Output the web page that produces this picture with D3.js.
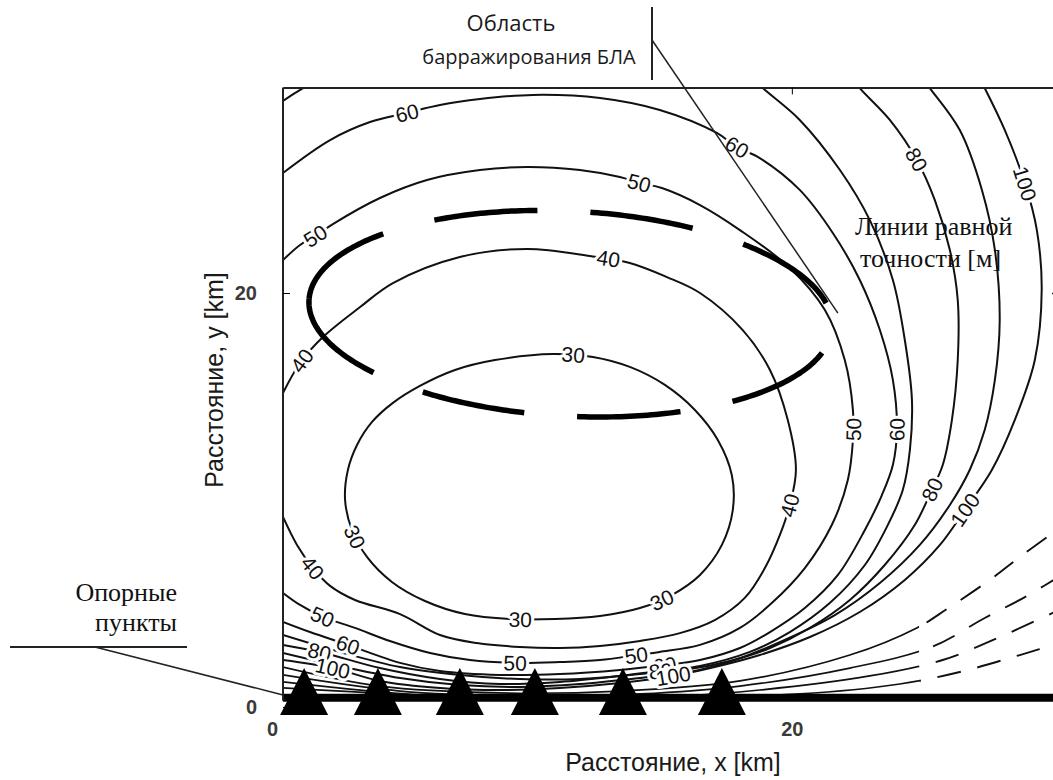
<!DOCTYPE html>
<html><head><meta charset="utf-8">
<script src="https://cdn.jsdelivr.net/npm/d3@7"></script>
<style>body{margin:0;background:#fff}</style>
</head><body><svg id="chart" width="1053" height="780"></svg>
<script>
// ---------- data (km) ----------
const xDomain = [0, 30.5];
const yDomain = [0, 30];
const xTickValues = [0, 20];
const yTickValues = [0, 20];
const stationsX = [0.83, 3.73, 6.95, 9.90, 13.36, 17.25];
const baselineBand = [[0, 0.45], [30.5, 0.45]];
const loiterArea = {cx: 11.3, cy: 19.0, rx: 10.3, ry: 4.95, tiltDeg: -4};

const contour30 = [[2.44,10.0],[2.55,11.45],[2.91,12.66],[3.50,13.77],[4.32,14.69],[5.38,15.51],[6.76,16.28],[8.33,16.76],[10.61,17.05],[12.18,16.91],[13.63,16.43],[15.01,15.56],[16.19,14.35],[17.09,12.90],[17.64,11.21],[17.68,9.52],[17.25,7.83],[16.39,6.38],[15.28,5.41],[14.03,4.78],[12.46,4.40],[10.69,4.25],[8.92,4.25],[7.15,4.49],[5.58,5.12],[4.28,6.04],[3.30,7.25],[2.71,8.55]];
const contour40 = [[0,15.17],[0.67,16.62],[1.57,17.87],[3.03,19.32],[4.32,20.48],[6.95,21.74],[9.59,22.13],[12.06,21.79],[13.63,21.45],[15.09,20.77],[16.39,20.0],[18.07,18.21],[19.14,16.28],[19.84,13.86],[20.16,11.45],[19.92,9.76],[19.53,8.31],[18.94,6.71],[18.15,5.27],[16.97,4.20],[15.60,3.57],[14.03,3.19],[12.46,2.95],[10.88,2.85],[9.31,2.90],[7.62,3.09],[6.17,3.48],[4.60,4.49],[2.83,5.17],[1.85,5.85],[1.18,6.71],[0.55,7.83],[0,9.18]];
const contour50 = [[0,21.59],[0.67,22.32],[1.26,22.75],[1.96,23.33],[3.81,24.59],[5.66,25.46],[7.74,25.94],[9.59,26.09],[11.67,25.94],[13.24,25.60],[14.03,25.31],[14.89,25.07],[16.39,24.25],[17.96,23.04],[19.92,21.21],[21.30,19.18],[22.08,16.76],[22.40,14.35],[22.40,12.90],[22.20,10.97],[21.57,8.79],[20.51,6.71],[19.21,5.02],[17.96,3.82],[16.39,3.00],[14.81,2.66],[13.91,2.51],[12.46,2.27],[10.88,2.17],[9.12,2.13],[7.35,2.27],[5.78,2.61],[4.20,3.19],[2.83,3.82],[1.57,4.35],[0.67,4.93],[0,5.51]];
const contour60 = [[0,25.80],[1.85,27.39],[3.42,28.26],[4.87,28.70],[6.17,29.08],[7.74,29.37],[9.82,29.57],[12.46,29.42],[14.81,28.84],[17.05,27.73],[17.84,27.05],[18.74,26.52],[20.31,24.98],[21.61,22.90],[22.67,20.63],[23.46,18.21],[23.97,15.80],[24.13,13.38],[23.97,11.69],[23.54,10.24],[22.87,8.55],[21.81,6.38],[20.51,4.78],[19.14,3.62],[17.96,2.85],[16.39,2.27],[15.01,2.03],[13.24,1.79],[10.88,1.59],[8.53,1.55],[6.17,1.74],[4.60,2.13],[2.55,3.00],[1.06,3.62],[0,4.11]];
const contour70a = [[-0.5,28.8],[0,29.28],[0.79,29.90],[1.4,30.3]];
const contour70 = [[18.35,30.53],[18.86,29.90],[20.31,28.36],[21.89,25.94],[23.06,23.53],[23.97,20.63],[24.44,17.73],[24.72,14.83],[24.64,12.42],[24.36,10.48],[23.77,8.79],[22.87,6.86],[21.49,5.02],[19.92,3.62],[18.35,2.66],[16.39,1.98],[14.03,1.59],[11.67,1.35],[9.31,1.35],[6.95,1.55],[4.60,1.93],[2.24,2.66],[0,3.48]];
const contour80 = [[22.28,30.53],[22.67,29.90],[23.85,28.36],[24.91,26.43],[25.62,24.49],[26.21,22.08],[26.52,19.66],[26.52,16.76],[26.29,13.86],[25.93,11.69],[25.50,10.48],[24.83,8.79],[23.65,6.86],[22.28,5.17],[20.71,3.82],[19.14,2.85],[17.56,2.22],[15.99,1.84],[14.81,1.74],[13.24,1.50],[10.88,1.21],[8.53,1.11],[6.17,1.35],[3.81,1.88],[1.45,2.66],[0,3.00]];
const contour90 = [[25.03,30.53],[25.42,29.90],[26.60,27.87],[27.47,24.98],[27.98,22.08],[28.17,18.70],[27.98,15.80],[27.58,13.38],[26.99,11.45],[26.21,9.76],[25.03,7.83],[23.46,5.99],[21.69,4.44],[19.72,3.24],[17.76,2.27],[15.99,1.69],[14.03,1.40],[11.67,1.11],[9.31,0.97],[6.95,1.06],[4.60,1.40],[1.85,2.08],[0,2.61]];
const contour100 = [[27.31,30.53],[27.58,29.90],[28.37,27.87],[29.16,25.31],[29.63,23.04],[29.82,20.14],[29.55,16.76],[28.76,13.86],[27.86,11.45],[26.80,9.52],[25.82,7.83],[24.44,6.14],[22.67,4.59],[20.71,3.38],[18.74,2.51],[16.97,1.93],[15.32,1.50],[13.24,1.16],[10.88,0.92],[8.53,0.82],[6.17,0.92],[3.81,1.26],[1.96,1.88],[0,2.27]];
const contour120 = [[0,1.93],[3.81,1.01],[8.53,0.68],[13.24,0.77],[17.96,1.26],[22.28,2.51],[24.91,3.82],[26.09,4.73],[27.78,6.14],[28.96,7.25],[30.26,8.41],[30.92,9.03]];
const contour150 = [[0,1.55],[4.60,0.77],[9.31,0.53],[14.03,0.63],[17.96,1.01],[22.28,1.88],[25.50,2.90],[27.58,4.30],[29.16,5.31],[30.92,6.62]];
const contour200 = [[0,1.21],[5.38,0.58],[10.88,0.43],[15.60,0.53],[18.74,0.82],[23.06,1.50],[25.93,2.27],[28.17,3.38],[30.92,4.93]];
const contour300 = [[0,0.92],[10.88,0.34],[20.31,0.63],[24.24,1.11],[26.60,1.69],[28.96,2.51],[30.92,3.24]];

const contourLevels = [30,40,50,60,70,70,80,90,100,120,150,200,300];
const contourLines = [contour30,contour40,contour50,contour60,contour70a,contour70,contour80,contour90,contour100,contour120,contour150,contour200,contour300];
const contourClosed = [true,false,false,false,false,false,false,false,false,false,false,false,false];

// [level, x km, y km]
const contourLabels = [
  [30,11.39,16.86],[30,2.75,8.21],[30,9.31,4.25],[30,14.81,5.41],
  [40,0.79,16.67],[40,12.77,21.59],[40,19.92,9.76],[40,1.18,6.71],
  [50,1.26,22.75],[50,14.03,25.31],[50,22.40,13.38],[50,13.91,2.51],[50,9.12,2.13],[50,1.57,4.35],
  [60,4.87,28.70],[60,17.84,27.05],[60,24.13,13.38],[60,15.01,2.03],[60,2.55,3.00],
  [80,24.91,26.43],[80,25.50,10.48],[80,14.81,1.74],[80,1.45,2.66],
  [100,29.16,25.31],[100,26.80,9.52],[100,15.32,1.50],[100,1.96,1.88]
];

// ---------- drawing ----------
const svg = d3.select('#chart');
const x = d3.scaleLinear().domain(xDomain).range([283, 1059]);
const y = d3.scaleLinear().domain(yDomain).range([707, 86]);
const SANS = 'Liberation Sans, Arial, sans-serif';

const defs = svg.append('defs');
const clipTop = y(29.93), clipBot = y(-0.3);
defs.append('clipPath').attr('id','plotclip')
  .append('rect').attr('x', x(0)).attr('y', clipTop).attr('width', x(xDomain[1]) - x(0)).attr('height', clipBot - clipTop);
defs.append('clipPath').attr('id','solidclip')
  .append('rect').attr('x', x(0)).attr('y', clipTop).attr('width', x(25) - x(0)).attr('height', clipBot - clipTop);
defs.append('clipPath').attr('id','brokenclip')
  .append('rect').attr('x', x(25)).attr('y', clipTop).attr('width', x(xDomain[1]) - x(25)).attr('height', clipBot - clipTop);

const plot = svg.append('g').attr('clip-path','url(#plotclip)');
const lineOpen = d3.line().x(d => x(d[0])).y(d => y(d[1])).curve(d3.curveCatmullRom.alpha(0.5));
const lineClosed = d3.line().x(d => x(d[0])).y(d => y(d[1])).curve(d3.curveCatmullRomClosed.alpha(0.5));

const contourPaths = [];
contourLines.forEach((pts, i) => {
  const d = (contourClosed[i] ? lineClosed : lineOpen)(pts);
  if (contourLevels[i] > 100) {
    plot.append('path').attr('d', d).attr('clip-path','url(#solidclip)')
      .attr('fill','none').attr('stroke','#111').attr('stroke-width', 1.7);
    plot.append('path').attr('d', d).attr('clip-path','url(#brokenclip)')
      .attr('fill','none').attr('stroke','#111').attr('stroke-width', 1.9)
      .attr('stroke-dasharray','24,17');
  } else {
    const p = plot.append('path').attr('d', d)
      .attr('fill','none').attr('stroke','#111').attr('stroke-width', 2);
    contourPaths.push({level: contourLevels[i], node: p.node()});
  }
});

// baseline band
plot.append('path').attr('d', d3.line().x(d => x(d[0])).y(d => y(d[1]))(baselineBand))
  .attr('stroke','#000').attr('stroke-width', 8).attr('fill','none');

// contour labels
const labelG = svg.append('g').attr('clip-path','url(#plotclip)');
contourLabels.forEach(([lev, lx, ly]) => {
  const px = x(lx), py = y(ly);
  let best = null;
  contourPaths.filter(c => c.level === lev).forEach(c => {
    const L = c.node.getTotalLength();
    for (let s = 0; s <= L; s += 1.5) {
      const q = c.node.getPointAtLength(s);
      const dd = (q.x - px) ** 2 + (q.y - py) ** 2;
      if (!best || dd < best.dd) best = {dd, s, node: c.node, L, q};
    }
  });
  const a = best.node.getPointAtLength(Math.max(0, best.s - 8));
  const b = best.node.getPointAtLength(Math.min(best.L, best.s + 8));
  let ang = Math.atan2(b.y - a.y, b.x - a.x) * 180 / Math.PI;
  if (ang > 90) ang -= 180;
  if (ang < -90) ang += 180;
  labelG.append('text')
    .attr('transform', `translate(${best.q.x},${best.q.y}) rotate(${ang})`)
    .attr('text-anchor','middle').attr('dy','0.36em')
    .attr('font-family', SANS).attr('font-size', 21)
    .attr('fill','#111').attr('stroke','#fff').attr('stroke-width', 6)
    .attr('paint-order','stroke').attr('stroke-linejoin','round')
    .text(lev);
});

// loitering area (thick dashed ellipse)
const th = loiterArea.tiltDeg * Math.PI / 180;
const ellPts = d3.range(0, 361).map(k => {
  const phi = Math.PI - k * Math.PI / 180;
  const ex = loiterArea.rx * Math.cos(phi), ey = loiterArea.ry * Math.sin(phi);
  return [loiterArea.cx + ex * Math.cos(th) - ey * Math.sin(th), loiterArea.cy + ex * Math.sin(th) + ey * Math.cos(th)];
});
const ell = svg.append('path').attr('d', d3.line().x(d => x(d[0])).y(d => y(d[1]))(ellPts))
  .attr('fill','none').attr('stroke','#000').attr('stroke-width', 5.5);
const EL = ell.node().getTotalLength();
const gap = 53, dash = (EL - 7 * gap) / 8;
ell.attr('stroke-dasharray', `${dash},${gap}`);

// frame & axes
const axisFont = g => g.selectAll('text').attr('font-family', SANS).attr('font-size', 20).attr('font-weight','bold').attr('fill','#3a3a3a');
const gl = svg.append('g').attr('transform', `translate(${x(0)},0)`)
  .call(d3.axisLeft(y).tickValues(yTickValues).tickSizeInner(-7).tickSizeOuter(0).tickPadding(26).tickFormat(d3.format('d')));
gl.select('.domain').attr('stroke','#222').attr('stroke-width', 2).attr('d', `M0,${y(29.93)}V${y(0.3)}`);
gl.call(axisFont);
const gb = svg.append('g').attr('transform', `translate(0,${y(0)})`)
  .call(d3.axisBottom(x).tickValues(xTickValues).tickSizeInner(0).tickSizeOuter(0).tickPadding(15).tickFormat(d3.format('d')));
gb.select('.domain').remove();
gb.call(axisFont);
gb.selectAll('.tick text').filter(d => d === 0).attr('dx', -11);
const gt = svg.append('g').attr('transform', `translate(0,${y(29.93)})`)
  .call(d3.axisTop(x).tickValues([20]).tickSizeInner(-7).tickSizeOuter(0).tickFormat(''));
gt.select('.domain').attr('stroke','#222').attr('stroke-width', 2);
const gr = svg.append('g').attr('transform', `translate(${x(xDomain[1])},0)`)
  .call(d3.axisRight(y).tickValues([20]).tickSizeInner(-7).tickSizeOuter(0).tickFormat(''));
gr.selectAll('line').attr('stroke','#222').attr('stroke-width', 1.5);

// stations
svg.append('g').selectAll('path').data(stationsX).join('path')
  .attr('d', d => `M${x(d) - 24},${y(0) + 8}L${x(d)},${y(0) - 39}L${x(d) + 24},${y(0) + 8}Z`)
  .attr('fill','#000');

// axis titles
svg.append('text').attr('x', 673).attr('y', 771).attr('text-anchor','middle')
  .attr('font-family', SANS).attr('font-size', 25).attr('fill','#1a1a1a')
  .text('Расстояние, x [km]');
svg.append('text').attr('transform', 'translate(223,380) rotate(-90)').attr('text-anchor','middle')
  .attr('font-family', SANS).attr('font-size', 25).attr('fill','#1a1a1a')
  .text('Расстояние, y [km]');

// annotations
const ann = svg.append('g').attr('font-family','Open Sans, sans-serif').attr('fill','#1a1a1a');
ann.append('text').attr('x', 511).attr('y', 31).attr('text-anchor','middle').attr('font-size', 22).text('Область');
ann.append('text').attr('x', 529).attr('y', 64).attr('text-anchor','middle').attr('font-size', 20).text('барражирования БЛА');
svg.append('line').attr('x1', 652).attr('x2', 652).attr('y1', 7).attr('y2', 80).attr('stroke','#222').attr('stroke-width', 2);
svg.append('line').attr('x1', 652).attr('y1', 40).attr('x2', x(21.81)).attr('y2', y(19.03)).attr('stroke','#222').attr('stroke-width', 1.5);

const serif = svg.append('g').attr('font-family','Liberation Serif, Times New Roman, serif').attr('font-size', 26).attr('fill','#111');
serif.append('text').attr('x', 855).attr('y', 235).text('Линии равной');
serif.append('text').attr('x', 860).attr('y', 267).text('точности [м]');
serif.append('text').attr('x', 177).attr('y', 601).attr('text-anchor','end').text('Опорные');
serif.append('text').attr('x', 177).attr('y', 631).attr('text-anchor','end').text('пункты');
svg.append('line').attr('x1', 10).attr('x2', 187).attr('y1', 647).attr('y2', 647).attr('stroke','#222').attr('stroke-width', 2);
svg.append('line').attr('x1', 95).attr('y1', 647).attr('x2', x(0)).attr('y2', y(0.58)).attr('stroke','#222').attr('stroke-width', 1.5);
</script></body></html>
